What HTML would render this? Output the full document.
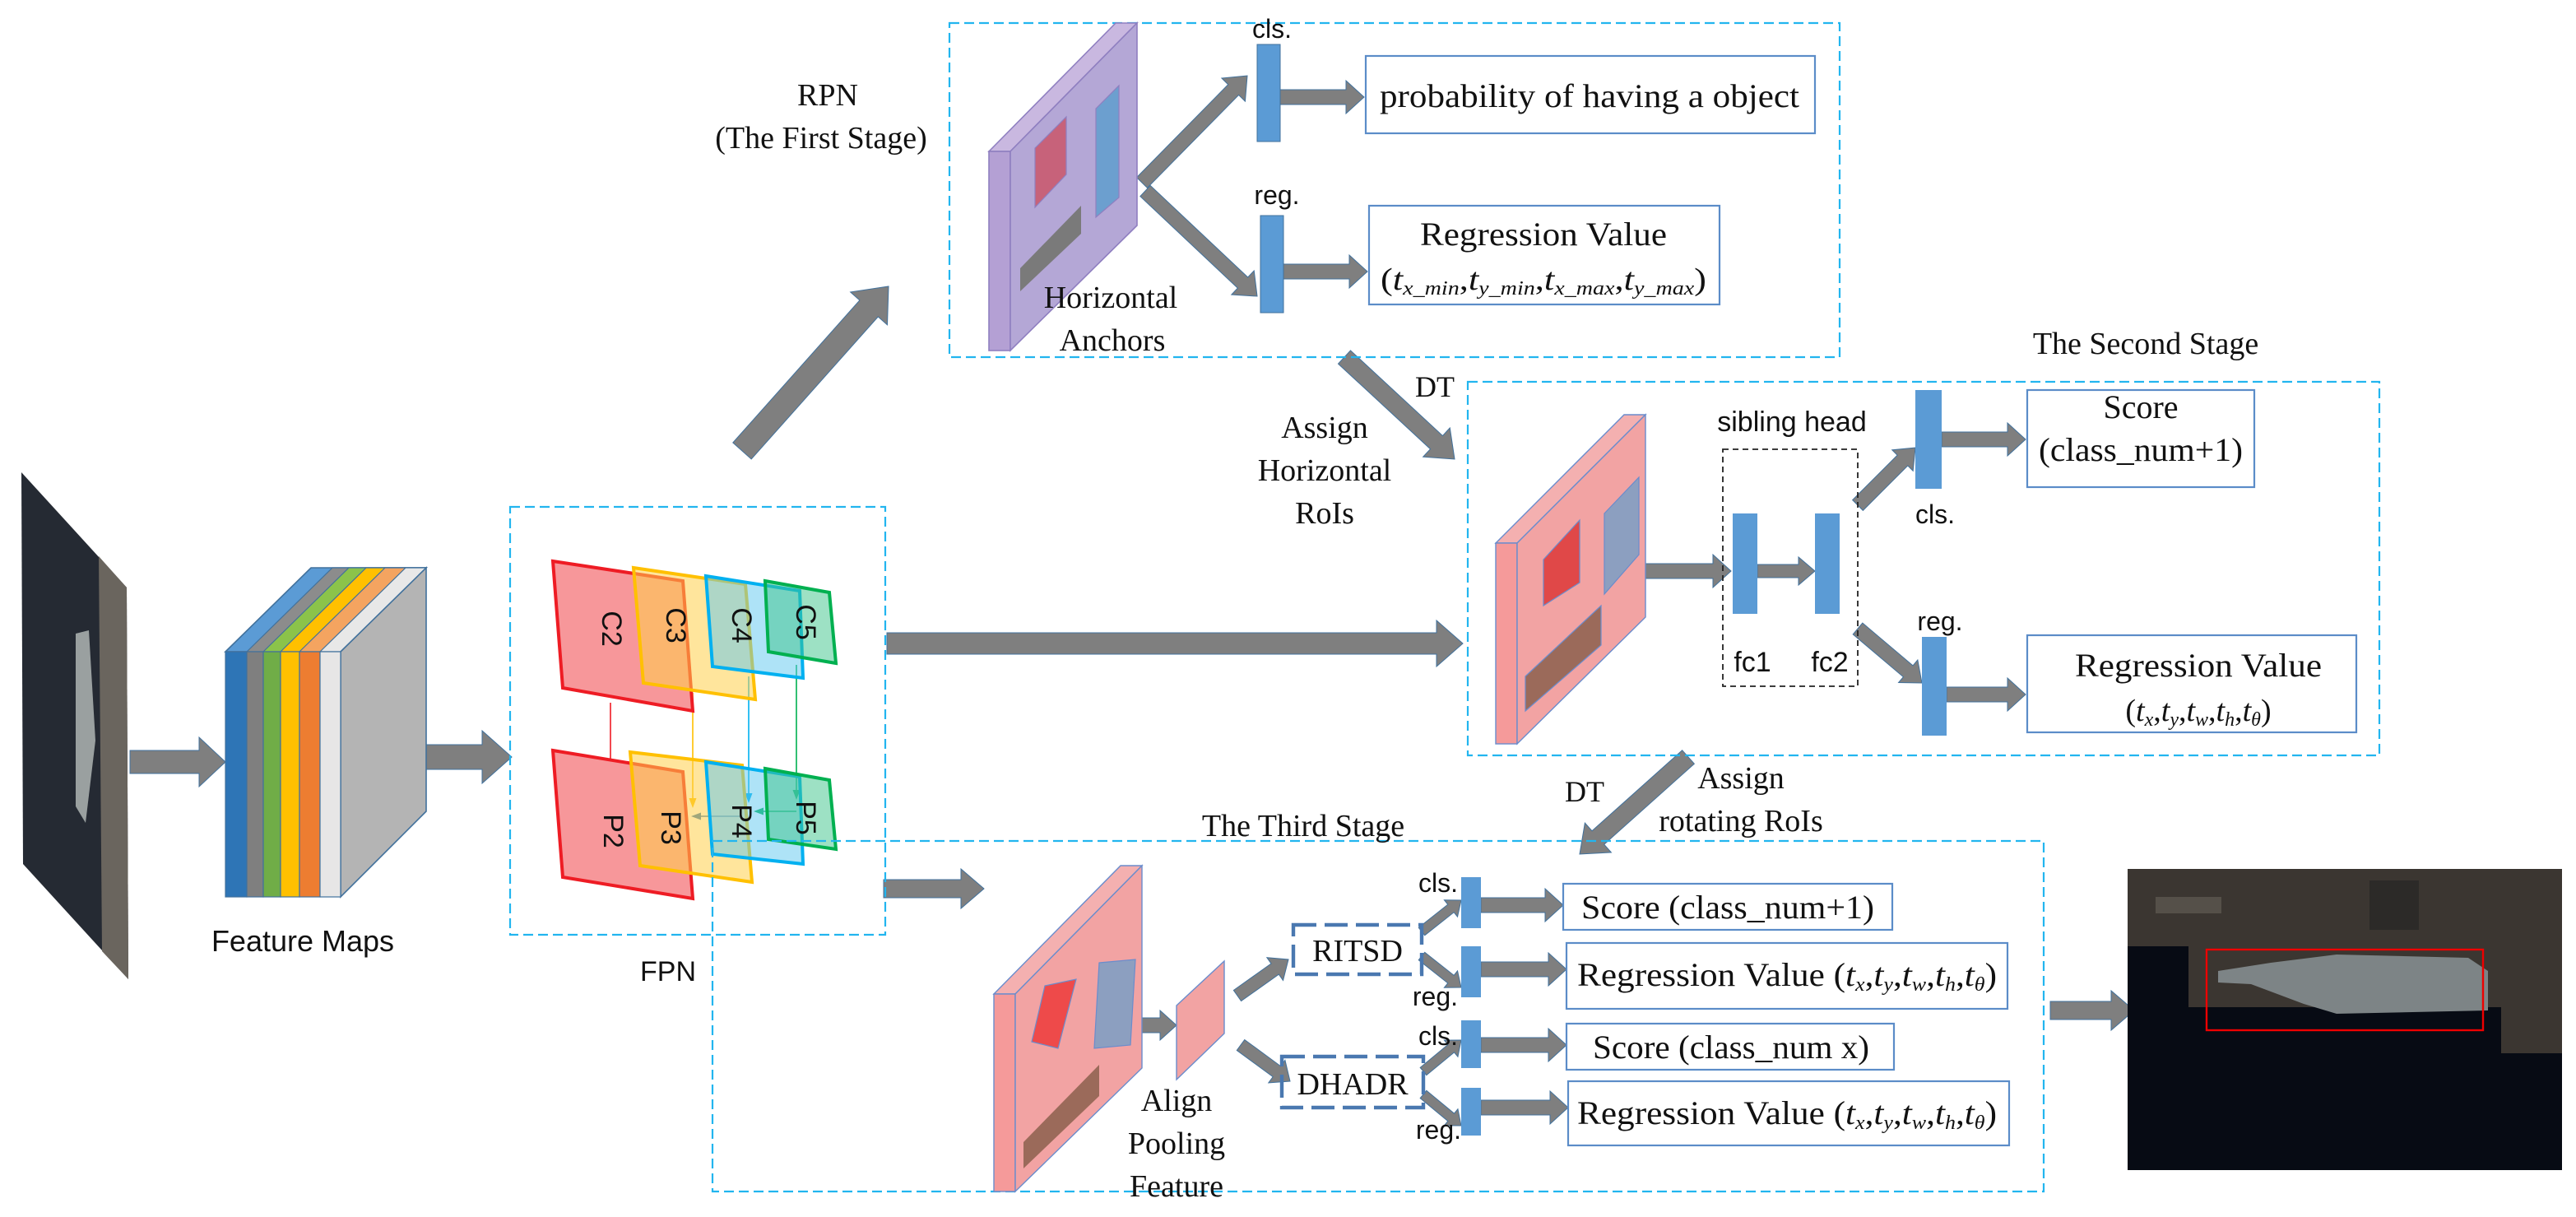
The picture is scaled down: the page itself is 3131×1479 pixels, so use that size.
<!DOCTYPE html>
<html><head><meta charset="utf-8"><style>
html,body{margin:0;padding:0;background:#fff;}
svg{display:block;}
.s{font-family:"Liberation Serif",serif;fill:#111;}
.a{font-family:"Liberation Sans",sans-serif;fill:#111;}
</style></head><body>
<svg id="sv" xmlns="http://www.w3.org/2000/svg" width="3131" height="1479" viewBox="0 0 1565.5 739.5">
<rect width="1565.5" height="739.5" fill="#fff"/>
<g id="arr"></g>

<!-- input image -->
<polygon points="13,287 77,357 78,595 14,525" fill="#252a33"/>
<polygon points="60,338 77,357 78,595 62,578" fill="#6a655e"/>
<polygon points="46,385 54,383 58,450 52,500 46,490" fill="#9aa0a0"/>

<!-- feature maps -->
<polygon points="137,396 189,345 259,345 207,396" fill="#5b9bd5" stroke="#41719c" stroke-width="0.8"/>
<polygon points="150,396 202,345 259,345 207,396" fill="#8c8c8c" stroke="#41719c" stroke-width="0.6"/>
<polygon points="160,396 212,345 259,345 207,396" fill="#8bc34a" stroke="#41719c" stroke-width="0.6"/>
<polygon points="170.5,396 222.5,345 259,345 207,396" fill="#ffc000" stroke="#41719c" stroke-width="0.6"/>
<polygon points="182,396 234,345 259,345 207,396" fill="#f4a460" stroke="#41719c" stroke-width="0.6"/>
<polygon points="194.5,396 246.5,345 259,345 207,396" fill="#e8e8e8" stroke="#41719c" stroke-width="0.6"/>
<polygon points="207,396 259,345 259,493 207,545" fill="#b4b4b4" stroke="#41719c" stroke-width="0.8"/>
<rect x="137" y="396" width="13" height="149" fill="#2e75b6" stroke="#41719c" stroke-width="0.6"/>
<rect x="150" y="396" width="10" height="149" fill="#7f7f7f" stroke="#41719c" stroke-width="0.6"/>
<rect x="160" y="396" width="10.5" height="149" fill="#70ad47" stroke="#41719c" stroke-width="0.6"/>
<rect x="170.5" y="396" width="11.5" height="149" fill="#ffc000" stroke="#41719c" stroke-width="0.6"/>
<rect x="182" y="396" width="12.5" height="149" fill="#ed7d31" stroke="#41719c" stroke-width="0.6"/>
<rect x="194.5" y="396" width="12.5" height="149" fill="#e7e6e6" stroke="#41719c" stroke-width="0.6"/>
<text x="184" y="578" class="a" font-size="18" text-anchor="middle">Feature Maps</text>

<!-- FPN -->
<rect x="310" y="308" width="228" height="260" fill="none" stroke="#22b5ef" stroke-width="1.1" stroke-dasharray="6,3"/>
<text x="406" y="596" class="a" font-size="17" text-anchor="middle">FPN</text>
<g stroke-width="2">
<polygon points="336,341 415,353 421,432 342,418" fill="#f7979a" stroke="#ee1c24"/>
<polygon points="385,345 453,355 459,425 391,415" fill="#ffcf4a" fill-opacity="0.55" stroke="#ffc000"/>
<polygon points="429,350 486,359 488,412 433,405" fill="#5ec8f0" fill-opacity="0.5" stroke="#00b0f0"/>
<polygon points="465,353 504,360 508,403 467,396" fill="#3cc48a" fill-opacity="0.5" stroke="#00b050"/>
<polygon points="336,456 415,469 421,546 342,533" fill="#f7979a" stroke="#ee1c24"/>
<polygon points="383,457 451,465 457,536 389,526" fill="#ffcf4a" fill-opacity="0.55" stroke="#ffc000"/>
<polygon points="429,463 486,472 488,525 433,519" fill="#5ec8f0" fill-opacity="0.5" stroke="#00b0f0"/>
<polygon points="465,467 504,474 508,516 467,510" fill="#3cc48a" fill-opacity="0.5" stroke="#00b050"/>
</g>
<g class="a" font-size="17" text-anchor="middle">
<text transform="translate(366,382) rotate(90)">C2</text>
<text transform="translate(405,380) rotate(90)">C3</text>
<text transform="translate(445,380) rotate(90)">C4</text>
<text transform="translate(484,378) rotate(90)">C5</text>
<text transform="translate(367,505) rotate(90)">P2</text>
<text transform="translate(402,503) rotate(90)">P3</text>
<text transform="translate(445,499) rotate(90)">P4</text>
<text transform="translate(484,497) rotate(90)">P5</text>
</g>

<!-- stage boxes -->
<rect x="577" y="14" width="541" height="203" fill="none" stroke="#22b5ef" stroke-width="1.1" stroke-dasharray="6,3"/>
<rect x="892" y="232" width="554" height="227" fill="none" stroke="#22b5ef" stroke-width="1.1" stroke-dasharray="6,3"/>
<rect x="433" y="511" width="809" height="213" fill="none" stroke="#22b5ef" stroke-width="1.1" stroke-dasharray="6,3"/>

<text x="503" y="64" class="s" font-size="19" text-anchor="middle">RPN</text>
<text x="499" y="90" class="s" font-size="19" text-anchor="middle">(The First Stage)</text>

<!-- purple slab -->
<polygon points="601,92 678,14 691,14 614,92" fill="#c9b8e0" stroke="#8f7fc0" stroke-width="0.8"/>
<rect x="601" y="92" width="13" height="121" fill="#b4a0d4" stroke="#8f7fc0" stroke-width="0.8"/>
<polygon points="614,92 691,14 691,137 614,213" fill="#b4a7d6" stroke="#8f7fc0" stroke-width="0.8"/>
<polygon points="629,90 648,71 648,106 629,126" fill="#c7627a" stroke="#8f7fc0" stroke-width="0.6"/>
<polygon points="666,66 680,52 680,120 666,132" fill="#6c9fcf" stroke="#8f7fc0" stroke-width="0.6"/>
<polygon points="620,163 657,125 657,142 620,177" fill="#7a7a7a"/>
<text x="675" y="187" class="s" font-size="19" text-anchor="middle">Horizontal</text>
<text x="676" y="213" class="s" font-size="19" text-anchor="middle">Anchors</text>

<rect x="764" y="27" width="14" height="59" fill="#5b9bd5" stroke="#41719c" stroke-width="0.5"/>
<rect x="766" y="131" width="14" height="59" fill="#5b9bd5" stroke="#41719c" stroke-width="0.5"/>
<text x="773" y="23" class="a" font-size="16" text-anchor="middle">cls.</text>
<text x="776" y="124" class="a" font-size="16" text-anchor="middle">reg.</text>
<rect x="830" y="34" width="273" height="47" fill="#fff" stroke="#5b8cc8" stroke-width="1.1"/>
<text x="966" y="65" class="s" font-size="20" text-anchor="middle" textLength="255" lengthAdjust="spacingAndGlyphs">probability of having a object</text>
<rect x="832" y="125" width="213" height="60" fill="#fff" stroke="#5b8cc8" stroke-width="1.1"/>
<text x="938" y="149" class="s" font-size="20" text-anchor="middle" textLength="150" lengthAdjust="spacingAndGlyphs">Regression Value</text>
<text x="938" y="176" class="s" font-size="19" text-anchor="middle" textLength="198" lengthAdjust="spacingAndGlyphs">(<tspan font-style="italic">t</tspan><tspan font-style="italic" font-size="12" dy="3">x_min</tspan><tspan dy="-3">,</tspan><tspan font-style="italic">t</tspan><tspan font-style="italic" font-size="12" dy="3">y_min</tspan><tspan dy="-3">,</tspan><tspan font-style="italic">t</tspan><tspan font-style="italic" font-size="12" dy="3">x_max</tspan><tspan dy="-3">,</tspan><tspan font-style="italic">t</tspan><tspan font-style="italic" font-size="12" dy="3">y_max</tspan><tspan dy="-3">)</tspan></text>

<text x="872" y="241" class="s" font-size="18" text-anchor="middle">DT</text>
<text x="805" y="266" class="s" font-size="19" text-anchor="middle">Assign</text>
<text x="805" y="292" class="s" font-size="19" text-anchor="middle">Horizontal</text>
<text x="805" y="318" class="s" font-size="19" text-anchor="middle">RoIs</text>

<!-- second stage -->
<text x="1304" y="215" class="s" font-size="19" text-anchor="middle">The Second Stage</text>
<polygon points="909,330 987,252 1000,252 922,330" fill="#f4b0b0" stroke="#6a8ccc" stroke-width="0.7"/>
<rect x="909" y="330" width="13" height="122" fill="#f59a9a" stroke="#6a8ccc" stroke-width="0.7"/>
<polygon points="922,330 1000,252 1000,375 922,452" fill="#f2a3a3" stroke="#6a8ccc" stroke-width="0.7"/>
<polygon points="938,340 960,316 960,354 938,368" fill="#e04848" stroke="#6a8ccc" stroke-width="0.6"/>
<polygon points="975,312 996,290 996,337 975,361" fill="#8c9fc0" stroke="#6a8ccc" stroke-width="0.6"/>
<polygon points="927,411 973,368 973,392 927,432" fill="#9b6a5a" stroke="#6a8ccc" stroke-width="0.6"/>
<rect x="1047" y="273" width="82" height="144" fill="none" stroke="#222" stroke-width="0.9" stroke-dasharray="3.5,2.5"/>
<text x="1089" y="262" class="a" font-size="17" text-anchor="middle">sibling head</text>
<rect x="1053" y="312" width="15" height="61" fill="#5b9bd5"/>
<rect x="1103" y="312" width="15" height="61" fill="#5b9bd5"/>
<text x="1065" y="408" class="a" font-size="17" text-anchor="middle">fc1</text>
<text x="1112" y="408" class="a" font-size="17" text-anchor="middle">fc2</text>
<rect x="1164" y="237" width="16" height="60" fill="#5b9bd5"/>
<rect x="1168" y="387" width="15" height="60" fill="#5b9bd5"/>
<text x="1176" y="318" class="a" font-size="16" text-anchor="middle">cls.</text>
<text x="1179" y="383" class="a" font-size="16" text-anchor="middle">reg.</text>
<rect x="1232" y="237" width="138" height="59" fill="#fff" stroke="#5b8cc8" stroke-width="1.1"/>
<text x="1301" y="254" class="s" font-size="20" text-anchor="middle">Score</text>
<text x="1301" y="280" class="s" font-size="20" text-anchor="middle" textLength="124" lengthAdjust="spacingAndGlyphs">(class_num+1)</text>
<rect x="1232" y="386" width="200" height="59" fill="#fff" stroke="#5b8cc8" stroke-width="1.1"/>
<text x="1336" y="411" class="s" font-size="20" text-anchor="middle" textLength="150" lengthAdjust="spacingAndGlyphs">Regression Value</text>
<text x="1336" y="438" class="s" font-size="19" text-anchor="middle">(<tspan font-style="italic">t</tspan><tspan font-style="italic" font-size="12" dy="3">x</tspan><tspan dy="-3">,</tspan><tspan font-style="italic">t</tspan><tspan font-style="italic" font-size="12" dy="3">y</tspan><tspan dy="-3">,</tspan><tspan font-style="italic">t</tspan><tspan font-style="italic" font-size="12" dy="3">w</tspan><tspan dy="-3">,</tspan><tspan font-style="italic">t</tspan><tspan font-style="italic" font-size="12" dy="3">h</tspan><tspan dy="-3">,</tspan><tspan font-style="italic">t</tspan><tspan font-style="italic" font-size="12" dy="3">θ</tspan><tspan dy="-3">)</tspan></text>

<text x="963" y="487" class="s" font-size="18" text-anchor="middle">DT</text>
<text x="1058" y="479" class="s" font-size="19" text-anchor="middle">Assign</text>
<text x="1058" y="505" class="s" font-size="19" text-anchor="middle">rotating RoIs</text>

<!-- third stage -->
<text x="792" y="508" class="s" font-size="19" text-anchor="middle">The Third Stage</text>
<polygon points="604,604 681,526 694,526 617,604" fill="#f4b0b0" stroke="#6a8ccc" stroke-width="0.7"/>
<rect x="604" y="604" width="13" height="120" fill="#f59a9a" stroke="#6a8ccc" stroke-width="0.7"/>
<polygon points="617,604 694,526 694,649 617,724" fill="#f2a3a3" stroke="#6a8ccc" stroke-width="0.7"/>
<polygon points="635,599 654,595 643,637 627,633" fill="#ee4a4a" stroke="#6a8ccc" stroke-width="0.6"/>
<polygon points="668,585 690,583 687,635 665,637" fill="#8c9fc0" stroke="#6a8ccc" stroke-width="0.6"/>
<polygon points="622,694 668,647 668,666 622,710" fill="#9b6a5a"/>
<polygon points="715,611 744,584 744,628 715,656" fill="#f2a3a3" stroke="#6a8ccc" stroke-width="0.7"/>
<text x="715" y="675" class="s" font-size="19" text-anchor="middle">Align</text>
<text x="715" y="701" class="s" font-size="19" text-anchor="middle">Pooling</text>
<text x="715" y="727" class="s" font-size="19" text-anchor="middle">Feature</text>
<rect x="786" y="562" width="78" height="30" fill="none" stroke="#4a78b0" stroke-width="2.2" stroke-dasharray="14,5"/>
<text x="825" y="584" class="s" font-size="19" text-anchor="middle">RITSD</text>
<rect x="779" y="642" width="86" height="31" fill="none" stroke="#4a78b0" stroke-width="2.2" stroke-dasharray="14,5"/>
<text x="822" y="665" class="s" font-size="19" text-anchor="middle">DHADR</text>
<rect x="888" y="533" width="12" height="31" fill="#5b9bd5"/>
<rect x="888" y="575" width="12" height="31" fill="#5b9bd5"/>
<rect x="888" y="620" width="12" height="29" fill="#5b9bd5"/>
<rect x="888" y="661" width="12" height="29" fill="#5b9bd5"/>
<g class="a" font-size="16" text-anchor="end">
<text x="886" y="542">cls.</text>
<text x="886" y="611">reg.</text>
<text x="886" y="635">cls.</text>
<text x="888" y="692">reg.</text>
</g>
<rect x="950" y="537" width="200" height="28" fill="#fff" stroke="#5b8cc8" stroke-width="1.1"/>
<text x="1050" y="558" class="s" font-size="20" text-anchor="middle" textLength="178" lengthAdjust="spacingAndGlyphs">Score (class_num+1)</text>
<rect x="952" y="573" width="268" height="40" fill="#fff" stroke="#5b8cc8" stroke-width="1.1"/>
<text x="1086" y="599" class="s" font-size="20" text-anchor="middle" textLength="255" lengthAdjust="spacingAndGlyphs">Regression Value (<tspan font-style="italic">t</tspan><tspan font-style="italic" font-size="12" dy="3">x</tspan><tspan dy="-3">,</tspan><tspan font-style="italic">t</tspan><tspan font-style="italic" font-size="12" dy="3">y</tspan><tspan dy="-3">,</tspan><tspan font-style="italic">t</tspan><tspan font-style="italic" font-size="12" dy="3">w</tspan><tspan dy="-3">,</tspan><tspan font-style="italic">t</tspan><tspan font-style="italic" font-size="12" dy="3">h</tspan><tspan dy="-3">,</tspan><tspan font-style="italic">t</tspan><tspan font-style="italic" font-size="12" dy="3">θ</tspan><tspan dy="-3">)</tspan></text>
<rect x="952" y="622" width="199" height="28" fill="#fff" stroke="#5b8cc8" stroke-width="1.1"/>
<text x="1052" y="643" class="s" font-size="20" text-anchor="middle" textLength="168" lengthAdjust="spacingAndGlyphs">Score (class_num x)</text>
<rect x="953" y="657" width="268" height="39" fill="#fff" stroke="#5b8cc8" stroke-width="1.1"/>
<text x="1086" y="683" class="s" font-size="20" text-anchor="middle" textLength="255" lengthAdjust="spacingAndGlyphs">Regression Value (<tspan font-style="italic">t</tspan><tspan font-style="italic" font-size="12" dy="3">x</tspan><tspan dy="-3">,</tspan><tspan font-style="italic">t</tspan><tspan font-style="italic" font-size="12" dy="3">y</tspan><tspan dy="-3">,</tspan><tspan font-style="italic">t</tspan><tspan font-style="italic" font-size="12" dy="3">w</tspan><tspan dy="-3">,</tspan><tspan font-style="italic">t</tspan><tspan font-style="italic" font-size="12" dy="3">h</tspan><tspan dy="-3">,</tspan><tspan font-style="italic">t</tspan><tspan font-style="italic" font-size="12" dy="3">θ</tspan><tspan dy="-3">)</tspan></text>

<!-- output image -->
<rect x="1293" y="528" width="264" height="183" fill="#070b14"/>
<polygon points="1293,528 1557,528 1557,640 1520,640 1520,612 1330,612 1330,575 1293,575" fill="#3b3631"/>
<rect x="1310" y="545" width="40" height="10" fill="#555049"/>
<rect x="1440" y="535" width="30" height="30" fill="#2c2a28"/>
<polygon points="1348,590 1380,585 1420,580 1500,582 1512,590 1512,614 1420,616 1400,610 1368,598 1348,597" fill="#7d8486"/>
<rect x="1341" y="577" width="168" height="49" fill="none" stroke="#e00" stroke-width="1.2"/>
</svg>
<script>
(function(){
var g=document.getElementById('arr');var NS='http://www.w3.org/2000/svg';
function A(x1,y1,x2,y2,w,hw,hl,c,st){
 var dx=x2-x1,dy=y2-y1,L=Math.sqrt(dx*dx+dy*dy),ux=dx/L,uy=dy/L,nx=-uy,ny=ux;
 var bx=x2-ux*hl,by=y2-uy*hl;
 var p=[[x1+nx*w/2,y1+ny*w/2],[bx+nx*w/2,by+ny*w/2],[bx+nx*hw/2,by+ny*hw/2],[x2,y2],[bx-nx*hw/2,by-ny*hw/2],[bx-nx*w/2,by-ny*w/2],[x1-nx*w/2,y1-ny*w/2]];
 var e=document.createElementNS(NS,'polygon');
 e.setAttribute('points',p.map(function(q){return q[0].toFixed(2)+','+q[1].toFixed(2)}).join(' '));
 e.setAttribute('fill',c||'#7f7f7f');
 if(st!==false){e.setAttribute('stroke','#41719c');e.setAttribute('stroke-width','0.5');}
 g.appendChild(e);
}
// big arrows
A(79,463,137,463,14,30,16);
A(259,460,311,460,15,32,18);
A(539,391,889,391,13,28,16);
A(451,274,540,174,15,30,18);
A(537,540,598,540,11,24,14);
A(1246,614,1297,614,11,24,14);
A(817,217,884,279,11,24,15);
A(1026,460,960,519,11,24,15);
// RPN
A(694,111,758,46,9,20,12);
A(696,116,764,180,9,20,12);
A(778,59,829,59,9,20,11);
A(780,165,831,165,9,20,11);
// second stage
A(1000,347,1052,347,9,20,11);
A(1068,347,1103,347,8,17,10);
A(1129,307,1164,272,9,18,11);
A(1129,382,1168,415,9,18,11);
A(1180,267,1231,267,9,20,11);
A(1183,422,1231,422,9,20,11);
// third stage
A(691,623,715,623,9,18,10);
A(752,605,783,583,8,17,10);
A(754,635,784,657,8,17,10);
A(864,566,888,547,6,13,8);
A(864,581,888,600,6,13,8);
A(865,651,888,632,6,13,8);
A(865,665,888,684,6,13,8);
A(900,550,950,550,9,20,11);
A(900,589,952,589,9,20,11);
A(900,635,952,635,9,20,11);
A(900,673,953,673,9,20,11);
// FPN thin arrows
A(371,427,371,488,0.8,4.5,6,'#ee1c24',false);
A(421,421,421,491,0.8,4.5,6,'#ffc000',false);
A(455,411,455,488,0.8,4.5,6,'#00b0f0',false);
A(484,404,484,486,0.8,4.5,6,'#00b050',false);
A(484,493,458,493,0.8,4.5,6,'#00b050',false);
A(451,496,420,496,0.8,4.5,6,'#2e75b6',false);
A(390,500,379,500,0.8,4.5,6,'#ffc000',false);
})();
</script>
</body></html>
